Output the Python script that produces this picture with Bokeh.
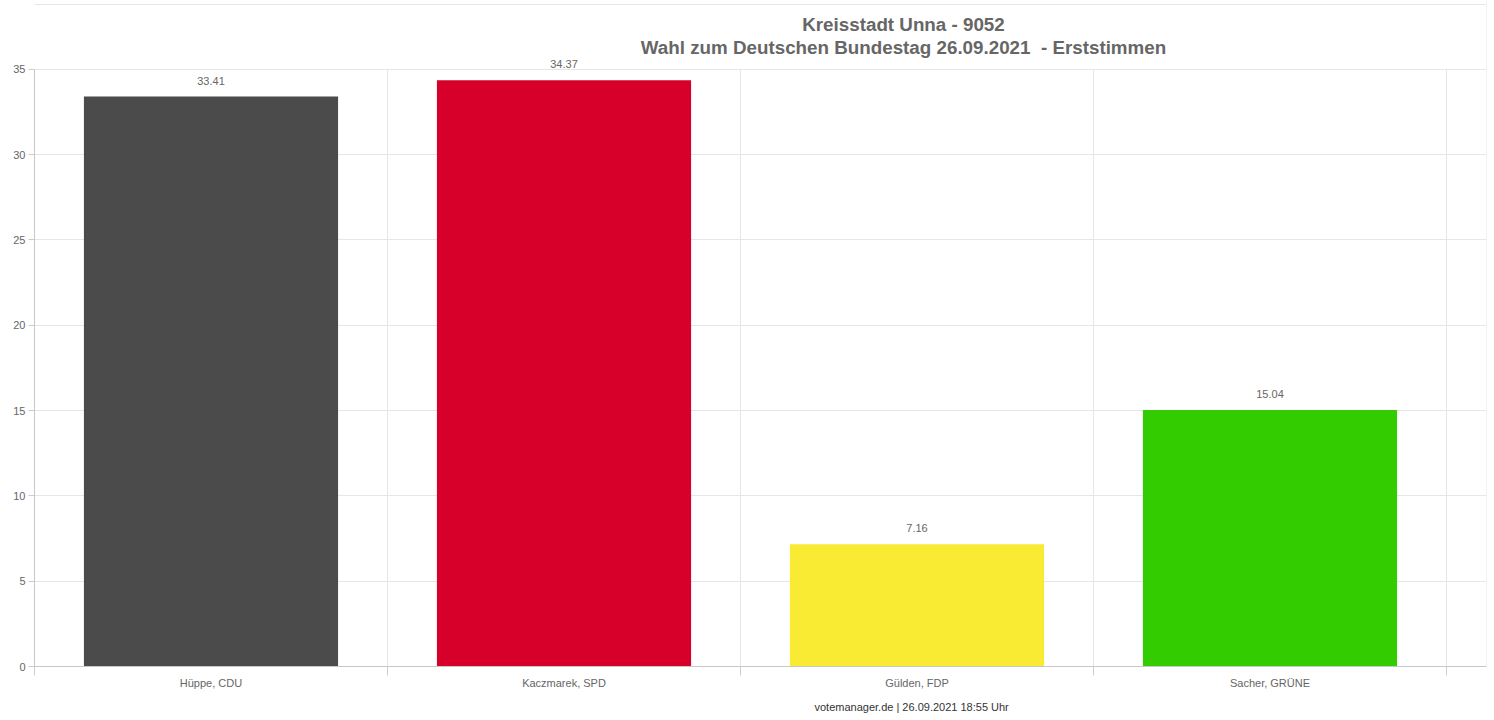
from bokeh.plotting import figure
from bokeh.models import Range1d, FixedTicker, ColumnDataSource, LabelSet, Label, Title, Span
from bokeh.core.properties import value
from bokeh.embed import file_html
from bokeh.resources import INLINE

candidates = ["Hüppe, CDU", "Kaczmarek, SPD", "Gülden, FDP", "Sacher, GRÜNE"]
values = [33.41, 34.37, 7.16, 15.04]
colors = ["#4b4b4b", "#d6002a", "#f9eb33", "#33cc00"]
title_lines = ["Kreisstadt Unna - 9052", "Wahl zum Deutschen Bundestag 26.09.2021 \u00a0- Erststimmen"]
footer = "votemanager.de | 26.09.2021 18:55 Uhr"
y_ticks = [0, 5, 10, 15, 20, 25, 30, 35]
y_max = 35

FONT = "Liberation Sans"
n = len(candidates)
centers = [i + 0.5 for i in range(n)]
boundaries = list(range(n + 1))

# frame: page x 34..1486, page y 0..667 ; 0..35 spans 598 px
px_per_unit = 598 / 35
y_top = 667 / px_per_unit
x_end = 1452 / 353

p = figure(width=1494, height=720, output_backend="svg", toolbar_location=None,
           x_range=Range1d(0, x_end), y_range=Range1d(0, y_top),
           min_border_left=34, min_border_right=8, min_border_top=0, min_border_bottom=53)
p.background_fill_color = "white"
p.border_fill_color = "white"
p.outline_line_color = None

# container border lines
p.add_layout(Span(location=x_end, dimension="height", line_color="#e3e6ec", line_width=1))
p.add_layout(Span(location=(667 - 4) / px_per_unit, dimension="width", line_color="#e3e6ec", line_width=1))

# vertical category grid lines (up to 35 only)
p.segment(x0=boundaries, y0=[0] * len(boundaries), x1=boundaries, y1=[y_max] * len(boundaries),
          line_color="#e6e6e6", line_width=1)

src = ColumnDataSource(dict(x=centers, top=values, color=colors,
                            lbl=["%.2f" % v for v in values]))
p.vbar(x="x", top="top", bottom=0, width=0.72, color="color", source=src, line_color=None)

labels = LabelSet(x="x", y="top", text="lbl", source=src, text_align="center",
                  text_baseline="middle", y_offset=16, text_font_size=value("11px"),
                  text_color=value("#666666"), text_font=value(FONT))
p.add_layout(labels)

# x axis
xa = p.xaxis[0]
xa.ticker = FixedTicker(ticks=centers, minor_ticks=boundaries)
xa.major_label_overrides = {c: name for c, name in zip(centers, candidates)}
xa.major_tick_out = 0
xa.major_tick_in = 0
xa.minor_tick_out = 9
xa.minor_tick_in = 0
xa.minor_tick_line_color = "#cccccc"
xa.axis_line_color = "#c8c8c8"
xa.major_label_standoff = 1
xa.major_label_text_font = FONT
xa.major_label_text_font_size = "11px"
xa.major_label_text_color = "#666666"

ya = p.yaxis[0]
ya.ticker = FixedTicker(ticks=y_ticks)
ya.bounds = (0, y_max)
ya.major_tick_out = 6
ya.major_tick_in = 0
ya.minor_tick_line_color = None
ya.major_tick_line_color = "#cccccc"
ya.axis_line_color = "#c8c8c8"
ya.major_label_standoff = 3
ya.major_label_text_font = FONT
ya.major_label_text_font_size = "11px"
ya.major_label_text_color = "#666666"

p.xgrid.grid_line_color = None
p.ygrid.ticker = FixedTicker(ticks=y_ticks)
p.ygrid.grid_line_color = "#e6e6e6"

# titles (inside the frame area above y=35)
p.add_layout(Label(x=(903 - 34) / 353, y=(667 - 24) / px_per_unit, text=title_lines[0],
                   text_align="center", text_baseline="middle", text_font=FONT,
                   text_font_size="18.8px", text_font_style="bold", text_color="#666666"))
p.add_layout(Label(x=(903 - 34) / 353, y=(667 - 47) / px_per_unit, text=title_lines[1],
                   text_align="center", text_baseline="middle", text_font=FONT,
                   text_font_size="18.8px", text_font_style="bold", text_color="#666666"))

# footer
p.add_layout(Title(text=footer, align="left", offset=780, text_font=FONT,
                   text_font_size="11px", text_font_style="normal", text_color="#333333",
                   standoff=15), "below")

open("out.html", "w").write(file_html(p, INLINE))
